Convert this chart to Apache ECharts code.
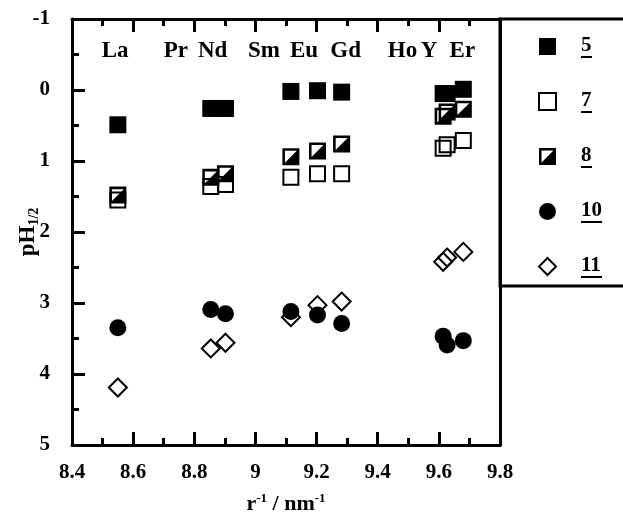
<!DOCTYPE html>
<html>
<head>
<meta charset="utf-8">
<script src="https://cdn.jsdelivr.net/npm/echarts@6/dist/echarts.min.js"></script>
<style>
  html, body { margin: 0; padding: 0; background: #fff; }
  #chart { width: 623px; height: 515px; }
</style>
</head>
<body>
<div id="chart"></div>
<script>
// r^-1 / nm^-1 for each point (La, Nd, Nd, Eu-cluster x3, Y/Er cluster x3)
const rInv = [8.55, 8.854, 8.902, 9.116, 9.203, 9.282, 9.614, 9.627, 9.68];

// pH1/2 values per compound
const ph5 = [0.49, 0.26, 0.26, 0.02, 0.01, 0.03, 0.05, 0.05, -0.01];
const ph7 = [1.55, 1.36, 1.33, 1.23, 1.18, 1.18, 0.82, 0.77, 0.71];
const ph8 = [1.48, 1.23, 1.18, 0.94, 0.86, 0.76, 0.37, 0.31, 0.27];
const ph10 = [3.35, 3.09, 3.15, 3.12, 3.17, 3.29, 3.47, 3.59, 3.53];
const ph11 = [4.19, 3.64, 3.56, 3.2, 3.03, 2.98, 2.42, 2.36, 2.28];

// element labels along the top of the plot
const elements = ["La", "Pr", "Nd", "Sm", "Eu", "Gd", "Ho", "Y", "Er"];
const elementX = [8.541, 8.74, 8.86, 9.028, 9.159, 9.295, 9.481, 9.568, 9.677];
const elementY = -0.55;

const legendNames = ["5", "7", "8", "10", "11"];

const FONT = "Liberation Serif";
const pts = (ys) => rInv.map((x, i) => [x, ys[i]]);

// square outline with lower-right half filled
const halfSquare =
  "path://M0,0H10V10H0Z M1.5,1.5V8.5H8.5V1.5Z M8.5,1.5L8.5,8.5L1.5,8.5Z";

const chart = echarts.init(document.getElementById("chart"));

const axisCommon = {
  type: "value",
  nameMoveOverlap: false,
  axisLine: { show: true, onZero: false, lineStyle: { color: "#000", width: 3 } },
  axisTick: { show: true, inside: true, length: 13, lineStyle: { color: "#000", width: 3 } },
  minorTick: { show: true, splitNumber: 2, length: 7, lineStyle: { color: "#000", width: 3 } },
  splitLine: { show: false },
  minorSplitLine: { show: false },
};

const option = {
  animation: false,
  backgroundColor: "#fff",
  textStyle: { fontFamily: FONT },
  grid: { left: 72, right: 123, top: 19, bottom: 70, outerBoundsMode: "none" },
  xAxis: [
    {
      ...axisCommon,
      position: "bottom",
      min: 8.4,
      max: 9.8,
      interval: 0.2,
      axisLabel: {
        color: "#000",
        fontFamily: FONT,
        fontWeight: "bold",
        fontSize: 21,
        margin: 17,
        formatter: (v) => String(+v.toFixed(1)),
      },
      name: "{a|r}{s|-1}{a| / nm}{s|-1}",
      nameLocation: "middle",
      nameGap: 47,
      nameTextStyle: {
        rich: {
          a: { fontFamily: FONT, fontWeight: "bold", fontSize: 22, color: "#000", lineHeight: 24 },
          s: { fontFamily: FONT, fontWeight: "bold", fontSize: 13, color: "#000", verticalAlign: "top", lineHeight: 24 },
        },
      },
    },
    {
      ...axisCommon,
      position: "top",
      min: 8.4,
      max: 9.8,
      interval: 0.2,
      axisLabel: { show: false },
    },
  ],
  yAxis: [
    {
      ...axisCommon,
      position: "left",
      inverse: true,
      min: -1,
      max: 5,
      interval: 1,
      axisLabel: {
        color: "#000",
        fontFamily: FONT,
        fontWeight: "bold",
        fontSize: 21,
        margin: 22,
      },
      name: "{a|pH}{s|1/2}",
      nameLocation: "middle",
      nameGap: 31,
      nameTextStyle: {
        rich: {
          a: { fontFamily: FONT, fontWeight: "bold", fontSize: 23, color: "#000", lineHeight: 26 },
          s: { fontFamily: FONT, fontWeight: "bold", fontSize: 14, color: "#000", verticalAlign: "bottom", lineHeight: 26 },
        },
      },
    },
    {
      ...axisCommon,
      position: "right",
      inverse: true,
      min: -1,
      max: 5,
      interval: 1,
      axisTick: { show: false },
      minorTick: { show: false },
      axisLabel: { show: false },
    },
  ],
  legend: {
    data: legendNames,
    orient: "vertical",
    left: 500,
    top: 19,
    padding: [16, 60, 3, 38],
    itemGap: 27,
    itemWidth: 17,
    itemHeight: 17,
    borderColor: "#000",
    borderWidth: 3,
    selectedMode: false,
    formatter: (name) => `{n|${name}}\n{u${name.length}| }`,
    textStyle: {
      padding: [0, 0, 0, 20],
      rich: {
        n: { fontFamily: FONT, fontWeight: "bold", fontSize: 21, color: "#000", lineHeight: 21 },
        u1: { width: 11, height: 2, lineHeight: 2, backgroundColor: "#000" },
        u2: { width: 21, height: 2, lineHeight: 2, backgroundColor: "#000" },
      },
    },
  },
  series: [
    {
      name: "5",
      type: "scatter",
      symbol: "rect",
      symbolSize: 17,
      itemStyle: { color: "#000", opacity: 1 },
      data: pts(ph5),
    },
    {
      name: "7",
      type: "scatter",
      symbol: "rect",
      symbolSize: 15,
      itemStyle: { color: "rgba(0,0,0,0)", borderColor: "#000", borderWidth: 2, opacity: 1 },
      data: pts(ph7),
    },
    {
      name: "8",
      type: "scatter",
      symbol: halfSquare,
      symbolSize: 17,
      itemStyle: { color: "#000", opacity: 1 },
      data: pts(ph8),
    },
    {
      name: "11",
      type: "scatter",
      symbol: "diamond",
      symbolSize: 18,
      itemStyle: { color: "rgba(0,0,0,0)", borderColor: "#000", borderWidth: 2, opacity: 1 },
      data: pts(ph11),
    },
    {
      name: "10",
      type: "scatter",
      symbol: "circle",
      symbolSize: 17,
      itemStyle: { color: "#000", opacity: 1 },
      data: pts(ph10),
    },
    {
      name: "elements",
      type: "scatter",
      symbolSize: 1,
      silent: true,
      itemStyle: { color: "rgba(0,0,0,0)", opacity: 1 },
      label: {
        show: true,
        position: "inside",
        formatter: "{b}",
        color: "#000",
        fontFamily: FONT,
        fontWeight: "bold",
        fontSize: 23,
      },
      data: elements.map((n, i) => ({ name: n, value: [elementX[i], elementY] })),
    },
  ],
};

chart.setOption(option);
</script>
</body>
</html>
